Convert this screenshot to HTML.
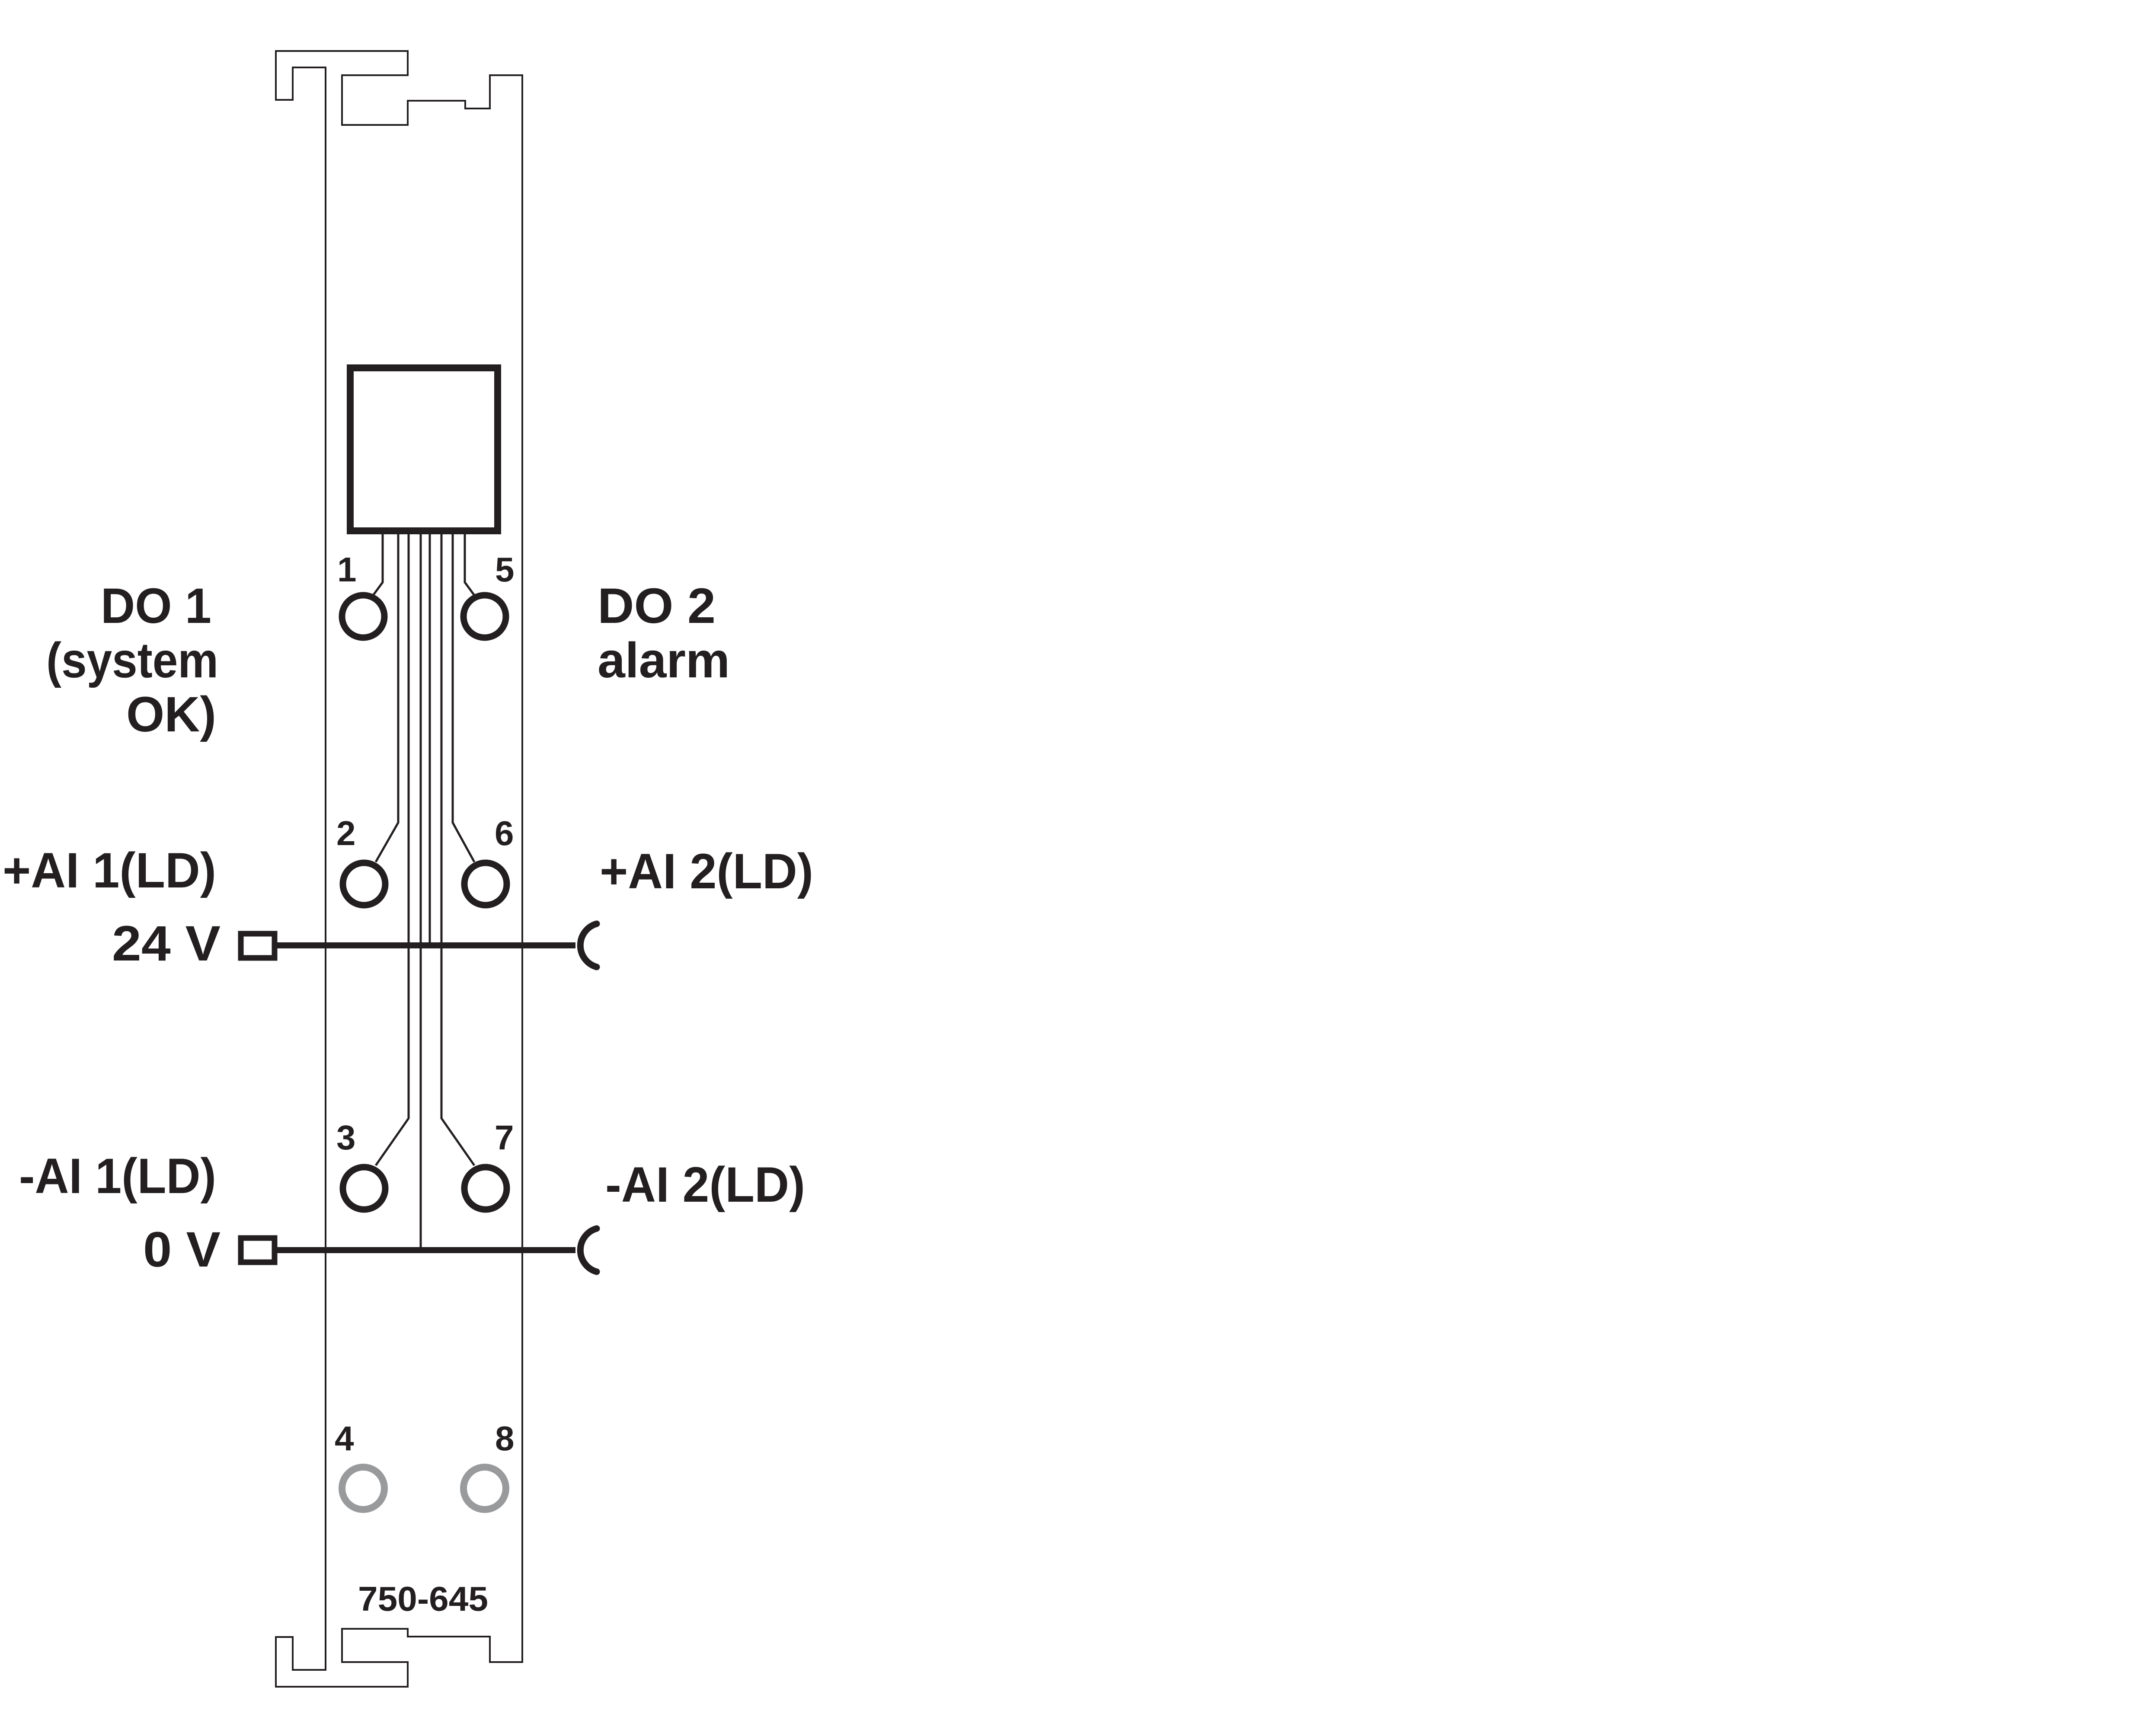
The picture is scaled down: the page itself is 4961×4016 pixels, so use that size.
<!DOCTYPE html>
<html><head><meta charset="utf-8"><style>html,body{margin:0;padding:0;background:#fff}svg{display:block}</style></head>
<body>
<svg width="4961" height="4016" viewBox="0 0 4961 4016" xmlns="http://www.w3.org/2000/svg">
<rect width="4961" height="4016" fill="#fff"/>
<g fill="none" stroke="#231f20" stroke-width="4" stroke-linejoin="miter">
<!-- top bracket -->
<path d="M753 3863 L753 156 L677 156 L677 231 L638 231 L638 118 L943 118 L943 174 L791 174 L791 289 L943 289 L943 233 L1076 233 L1076 251 L1133 251 L1133 174 L1208 174 L1208 3845 L1133 3845 L1133 3786 L943 3786 L943 3768 L791 3768 L791 3845 L943 3845 L943 3902 L638 3902 L638 3787 L677 3787 L677 3863 Z"/>
</g>
<g fill="none" stroke="#231f20">
<rect x="810" y="851" width="341" height="377" stroke-width="16"/>
<g stroke-width="5">
<path d="M885 1236 L885 1347 L863 1377"/>
<path d="M1075 1236 L1075 1347 L1097 1377"/>
<path d="M921 1236 L921 1903 L869 1994"/>
<path d="M1047 1236 L1047 1903 L1097 1994"/>
<path d="M945 1236 L945 2587 L869 2696"/>
<path d="M1021 1236 L1021 2587 L1097 2696"/>
<path d="M973 1236 L973 2895"/>
<path d="M994 1236 L994 2191"/>
</g>
<g stroke-width="15">
<circle cx="840" cy="1426" r="49"/>
<circle cx="1121" cy="1426" r="49"/>
<circle cx="842" cy="2045" r="49"/>
<circle cx="1123" cy="2045" r="49"/>
<circle cx="842" cy="2749" r="49"/>
<circle cx="1123" cy="2749" r="49"/>
</g>
<g stroke="#999a9c" stroke-width="16">
<circle cx="840" cy="3443" r="49"/>
<circle cx="1121" cy="3443" r="49"/>
</g>
<g stroke-width="14">
<line x1="641" y1="2187" x2="1331" y2="2187"/>
<line x1="641" y1="2892" x2="1331" y2="2892"/>
</g>
<g stroke-width="13">
<rect x="557" y="2160" width="78" height="56"/>
<rect x="557" y="2864" width="78" height="56"/>
</g>
<g stroke-width="15" stroke-linecap="round">
<path d="M1380 2137 A52 52 0 0 0 1380 2237"/>
<path d="M1380 2842 A52 52 0 0 0 1380 2942"/>
</g>
</g>
<g fill="#231f20" font-family="Liberation Sans, sans-serif" font-weight="bold">
<g font-size="115">
<text x="233" y="1441" textLength="256" lengthAdjust="spacingAndGlyphs">DO 1</text>
<text x="107" y="1567" textLength="398" lengthAdjust="spacingAndGlyphs">(system</text>
<text x="292" y="1692" textLength="208" lengthAdjust="spacingAndGlyphs">OK)</text>
<text x="1382" y="1441" textLength="273" lengthAdjust="spacingAndGlyphs">DO 2</text>
<text x="1382" y="1567" textLength="306" lengthAdjust="spacingAndGlyphs">alarm</text>
<text x="6" y="2053" textLength="494" lengthAdjust="spacingAndGlyphs">+AI 1(LD)</text>
<text x="1387" y="2055" textLength="494" lengthAdjust="spacingAndGlyphs">+AI 2(LD)</text>
<text x="259" y="2222" textLength="251" lengthAdjust="spacingAndGlyphs">24 V</text>
<text x="44" y="2760" textLength="456" lengthAdjust="spacingAndGlyphs">-AI 1(LD)</text>
<text x="1400" y="2780" textLength="462" lengthAdjust="spacingAndGlyphs">-AI 2(LD)</text>
<text x="331" y="2930" textLength="179" lengthAdjust="spacingAndGlyphs">0 V</text>
</g>
<g font-size="80">
<text x="780" y="1345">1</text>
<text x="1145" y="1345">5</text>
<text x="778" y="1955">2</text>
<text x="1144" y="1955">6</text>
<text x="778" y="2659">3</text>
<text x="1144" y="2659">7</text>
<text x="774" y="3355">4</text>
<text x="1145" y="3355">8</text>
<text x="828" y="3726" textLength="301" lengthAdjust="spacingAndGlyphs">750-645</text>
</g>
</g>
</svg>
</body></html>
